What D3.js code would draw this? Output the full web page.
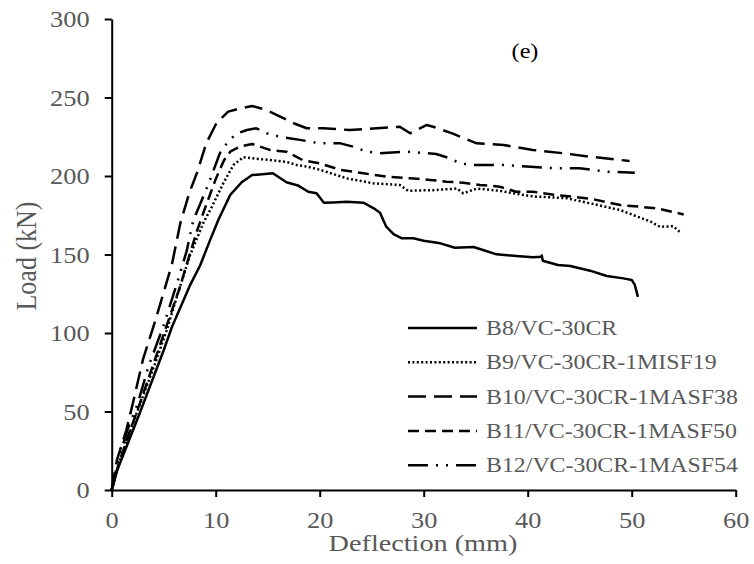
<!DOCTYPE html>
<html>
<head>
<meta charset="utf-8">
<script src="https://cdn.jsdelivr.net/npm/d3@7/dist/d3.min.js"></script>
<style>
  html, body { margin: 0; padding: 0; background: #fff; }
  svg { display: block; }
  text { font-family: "Liberation Serif", "Times New Roman", serif; }
</style>
</head>
<body>
<svg id="chart" width="754" height="564"></svg>
<script>
// ---- data ----
const seriesNames = [
  "B8/VC-30CR",
  "B9/VC-30CR-1MISF19",
  "B10/VC-30CR-1MASF38",
  "B11/VC-30CR-1MASF50",
  "B12/VC-30CR-1MASF54"
];
const b8 = [[0,0],[0.5,12],[2.7,49],[5,89],[5.8,104],[7.5,130],[8.5,143],[9.45,159],[10.25,172],[11.4,188],[12.5,196],[13.5,200.6],[15.5,201.7],[16.8,196],[17.9,194],[18.9,190],[19.7,189],[20.4,183],[21.3,183.2],[22.6,183.6],[24.2,183],[25.2,179.4],[25.8,176.6],[26.4,167.7],[27.1,163],[27.9,160.3],[29,160.3],[30,158.8],[31.6,157.1],[33,154.3],[34.8,154.8],[35.7,152.9],[37,150.1],[38.9,149],[40.5,148.2],[41.3,148.6],[41.35,149.4],[41.45,146],[42.9,143.3],[44.1,142.7],[46,139.7],[47.6,136.3],[49.2,134.8],[50,133.8],[50.3,130.6],[50.6,123]];
const b9 = [[0,0],[0.8,19],[2.4,49],[4.2,81],[5.3,102],[6.4,126],[7.5,149],[8.8,170],[9.6,180],[10.7,195],[11.7,207],[12.65,212],[13.9,211],[15.5,210],[16.8,209],[17.8,207],[18.75,206],[20,204],[22.6,198.5],[25.2,195.3],[27.7,194.3],[28.5,190.6],[30.9,191],[33.2,192],[33.8,189],[35.1,192],[37.3,190.6],[38.6,189],[40.5,187],[43.8,185.8],[46,182.6],[48.9,178.3],[50.2,175],[51.8,171],[52.7,167.7],[54,168],[54.6,164.5]];
const b10 = [[0,0],[0.5,19],[1.4,38],[2.1,57],[3,83],[4.2,108],[5.8,144],[6.6,170],[7.5,190],[8.2,202],[9.1,221],[10.1,234],[11.2,241],[12.3,243],[13.5,244.6],[14.9,242],[16.2,237.8],[17.5,233.6],[18.75,230.4],[20.3,230.4],[22.9,229.3],[25.5,230.4],[27.7,231.4],[28.7,227.2],[30.3,232.5],[30.9,231.4],[32.8,227],[35.1,220.8],[37.7,219.7],[40.5,216.6],[43.4,214.5],[46,212.3],[48.9,210.2],[49.8,209.6]];
const b11 = [[0,0],[0.6,15],[1.5,33],[2.7,55],[4,80],[5.3,105],[6.5,128],[7.5,150],[8.2,165],[9,180],[10,198],[10.8,210],[11.4,215.5],[12.3,218.7],[13.5,220.4],[15.2,216.6],[16.8,215.5],[18.4,210],[20,208],[21.95,204],[24.2,201.7],[26.4,199.6],[28.7,198.5],[30.6,197.5],[32.2,196.4],[33.8,195.7],[35.4,194.3],[37.3,193.2],[38.9,190],[40.5,190],[42.5,188],[44.4,186.8],[46.3,185.2],[48.9,181.5],[50.8,180.4],[52.4,179.4],[55,175.5]];
const b12 = [[0,0],[0.6,18],[1.5,38],[2.5,55],[3.5,78],[5,105],[6.2,130],[7.2,152],[7.85,172],[8.5,182],[9.45,197.5],[10.4,214.5],[11.2,222],[12,227],[13,229.3],[13.9,230.4],[14.9,227.2],[16.2,225],[18.1,223],[20,220.8],[22,220.8],[23.2,218.7],[24.5,215.5],[25.8,214.5],[28.4,215.5],[30.3,214.5],[31.2,214],[32.5,211.3],[33.5,208],[34.8,207],[37.7,207],[39.9,206],[42.5,205],[45,205],[47.6,202.8],[50.3,202]];
const seriesData = [b8, b9, b10, b11, b12];
const xTicks = [0, 10, 20, 30, 40, 50, 60];
const yTicks = [0, 50, 100, 150, 200, 250, 300];
const xLabel = "Deflection (mm)";
const yLabel = "Load (kN)";
const panelLabel = "(e)";

// ---- styles ----
const dashes = ["none", "2 2.4", "18 8", "11 6", "20 8 2 8 2 8"];
const SX = 1.1; // horizontal text stretch
const grey = "#595959";

const svg = d3.select("#chart");
const x = d3.scaleLinear().domain([0, 60]).range([111.7, 735.7]);
const y = d3.scaleLinear().domain([0, 300]).range([490, 19]);

// axes
const gx = svg.append("g").attr("transform", `translate(0,${y(0)})`)
  .call(d3.axisBottom(x).tickValues(xTicks).tickSize(7).tickSizeOuter(0).tickPadding(14).tickFormat(d3.format("d")));
const gy = svg.append("g").attr("transform", `translate(${x(0)},0)`)
  .call(d3.axisLeft(y).tickValues(yTicks).tickSize(7).tickSizeOuter(0).tickPadding(15).tickFormat(d3.format("d")));
[gx, gy].forEach(g => {
  g.select(".domain").attr("stroke", "#000").attr("stroke-width", 2);
  g.selectAll(".tick line").attr("stroke", "#000").attr("stroke-width", 2);
  g.selectAll(".tick text").attr("fill", grey).attr("font-size", 24)
    .attr("font-family", "Liberation Serif, Times New Roman, serif");
});
gx.selectAll(".tick text").each(function() {
  const t = d3.select(this);
  const yy = +t.attr("y");
  t.attr("y", 0).attr("transform", `translate(0,${yy}) scale(${SX},1)`);
});
gy.selectAll(".tick text").each(function() {
  const t = d3.select(this);
  const xx = +t.attr("x");
  t.attr("x", 0).attr("transform", `translate(${xx},0) scale(${SX},1)`);
});

// lines
const line = d3.line().x(d => x(d[0])).y(d => y(d[1]));
svg.append("g").selectAll("path").data(seriesData).join("path")
  .attr("d", line)
  .attr("fill", "none")
  .attr("stroke", "#000")
  .attr("stroke-width", 2.5)
  .attr("stroke-linejoin", "round")
  .attr("stroke-dasharray", (d, i) => dashes[i]);

// axis titles
svg.append("text").text(xLabel)
  .attr("transform", `translate(423,551) scale(1.255,1)`)
  .attr("text-anchor", "middle").attr("font-size", 22.5).attr("fill", grey);
svg.append("text").text(yLabel)
  .attr("transform", `translate(36,256) scale(${SX},1) rotate(-90)`)
  .attr("text-anchor", "middle").attr("font-size", 26).attr("fill", grey);

// panel label
svg.append("text").text(panelLabel)
  .attr("transform", `translate(525,58) scale(${SX},1)`)
  .attr("text-anchor", "middle").attr("font-size", 22).attr("fill", "#000");

// legend
const leg = svg.append("g");
const legY0 = 328, legDy = 34.3;
seriesNames.forEach((name, i) => {
  const yy = legY0 + i * legDy;
  leg.append("line").attr("x1", 408).attr("x2", 477).attr("y1", yy).attr("y2", yy)
    .attr("stroke", "#000").attr("stroke-width", 2.5).attr("stroke-dasharray", dashes[i]);
  leg.append("text").text(name)
    .attr("transform", `translate(486,${yy}) scale(${SX},1)`)
    .attr("dy", "0.33em").attr("font-size", 21.7).attr("fill", grey);
});
</script>
</body>
</html>
